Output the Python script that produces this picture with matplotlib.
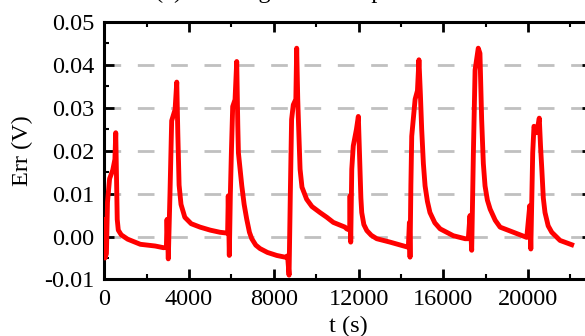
import matplotlib
matplotlib.use("Agg")
import matplotlib.pyplot as plt
from matplotlib.ticker import MultipleLocator, FormatStrFormatter

plt.rcParams['font.family'] = ['Liberation Serif', 'DejaVu Serif']
plt.rcParams['axes.unicode_minus'] = False

# error trace (t in s, err in V)
t = [0, 30, 100, 150, 250, 400, 500, 540, 580, 610, 660, 800, 1100, 1700,
     2400, 2800, 2930,
     2960, 3020, 3100, 3180, 3340, 3420, 3470, 3530, 3620, 3800, 4100, 4520,
     5000, 5460, 5820,
     5850, 5900, 5950, 6000, 6060, 6170, 6250, 6300, 6330, 6490, 6600, 6720,
     6850, 6960, 7150, 7350, 7700, 8140, 8530, 8650,
     8720, 8780, 8840, 8920, 9040, 9080, 9130, 9160, 9240, 9330, 9550, 9800,
     10180, 10500, 10810, 11360, 11440, 11580,
     11600, 11630, 11680, 11750, 11900, 11990, 12040, 12070, 12110, 12150,
     12250, 12390, 12600, 12860, 13490, 14350,
     14400, 14430, 14470, 14510, 14670, 14780, 14850, 14920, 14980, 15060,
     15140, 15250, 15370, 15600, 15850, 16470, 17030, 17180,
     17260, 17340, 17380, 17420, 17500, 17650, 17730, 17810, 17890, 17970,
     18080, 18210, 18450, 18680, 19310, 19940,
     20080, 20130, 20220, 20280, 20410, 20530, 20590, 20650, 20720, 20800,
     20950, 21120, 21510, 22060]
err = [0.004, -0.005, -0.004, 0.008, 0.0135, 0.0155, 0.018, 0.0242, 0.012,
       0.004, 0.0015, 0.0004, -0.0006, -0.0018, -0.0022, -0.0026, -0.0025,
       0.004, -0.0052, 0.010, 0.027, 0.0296, 0.036, 0.024, 0.012, 0.0075,
       0.0045, 0.003, 0.0022, 0.0015, 0.001, 0.0008,
       0.0095, -0.0044, 0.010, 0.020, 0.0303, 0.0319, 0.0408, 0.026, 0.0195,
       0.0118, 0.0075, 0.0041, 0.001, -0.0005, -0.002, -0.0028, -0.0037,
       -0.0044, -0.0048, -0.0045,
       -0.009, 0.010, 0.0273, 0.0307, 0.032, 0.0439, 0.032, 0.0273, 0.0157,
       0.0115, 0.0087, 0.007, 0.0056, 0.0045, 0.0033, 0.0022, 0.0018, 0.0015,
       0.0095, -0.0013, 0.0157, 0.0211, 0.025, 0.028, 0.020, 0.0157, 0.009,
       0.0056, 0.0028, 0.0014, 0.0003, -0.0005, -0.0013, -0.0025,
       0.0033, -0.0048, 0.012, 0.0234, 0.032, 0.034, 0.0412, 0.033, 0.025,
       0.017, 0.0118, 0.0082, 0.0056, 0.0032, 0.0018, 0.0002, -0.0005,
       -0.0005,
       0.0049, -0.0032, 0.008, 0.0195, 0.0388, 0.0439, 0.0427, 0.0273, 0.017,
       0.0118, 0.0085, 0.0064, 0.0038, 0.0022, 0.001, -0.0002,
       0.0072, -0.0029, 0.0195, 0.0257, 0.0242, 0.0276, 0.021, 0.0157, 0.009,
       0.0056, 0.0025, 0.001, -0.0009, -0.0019]

grid_levels = [0.0, 0.01, 0.02, 0.03, 0.04]

fig = plt.figure(figsize=(5.85, 3.36), dpi=100)
ax = fig.add_axes([0.1783, 0.1682, 0.8330, 0.7663])

for g in grid_levels:
    ax.axhline(g, color='#c0c0c0', lw=2, linestyle=(0, (6, 6)), zorder=1)

ax.plot(t, err, color='#ff0000', lw=3.5, zorder=3)

ax.set_xlim(0, 23000)
ax.set_ylim(-0.01, 0.05)
ax.xaxis.set_major_locator(MultipleLocator(4000))
ax.xaxis.set_minor_locator(MultipleLocator(2000))
ax.yaxis.set_major_locator(MultipleLocator(0.01))
ax.yaxis.set_minor_locator(MultipleLocator(0.005))
ax.yaxis.set_major_formatter(FormatStrFormatter('%.2f'))

ax.tick_params(which='both', direction='in', top=True, right=True,
               labelsize=17.5)
ax.tick_params(which='major', length=7, width=2, pad=7)
ax.tick_params(which='minor', length=3.5, width=1.5)
for s in ax.spines.values():
    s.set_linewidth(2.2)

ax.set_xlabel('t (s)', fontsize=17.5, labelpad=4)
ax.set_ylabel('Err (V)', fontsize=17.5, labelpad=8)

# title sits mostly above the cropped top edge, as in the reference
fig.text(155 / 585, 1 + 1.5 / 336, '(a) Training error comparison',
         fontsize=17.5, ha='left', va='baseline')

fig.savefig('out.png', dpi=100)
